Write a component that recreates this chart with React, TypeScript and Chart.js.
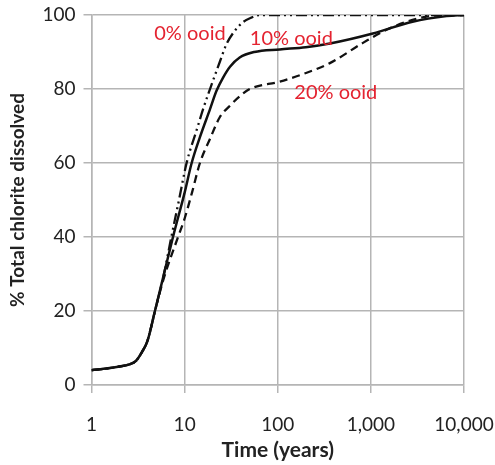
import React, { useEffect, useRef } from "react";
import { Chart, registerables } from "chart.js";

Chart.register(...registerables);

const xTicks = [1, 10, 100, 1000, 10000];
const yTicks = [0, 20, 40, 60, 80, 100];

const time0 = [1, 1.5, 2, 2.5, 3, 3.5, 4, 4.8, 6, 7.2, 8.7, 10.5, 13.5, 16, 20, 24, 28, 34, 42, 52, 64, 100, 1000, 10000];
const ooid0 = [4, 4.5, 5, 5.5, 6.5, 9, 12, 20, 30, 40, 50, 60, 69, 75, 82, 87.5, 92, 95.5, 98, 99.3, 100, 100, 100, 100];

const time10 = [1, 1.5, 2, 2.5, 3, 3.5, 4, 4.8, 6, 7.5, 10, 11.9, 14.6, 18.7, 22, 25.8, 30.7, 39, 56, 105, 200, 363, 1050, 2800, 6500, 10000];
const ooid10 = [4, 4.5, 5, 5.5, 6.5, 9, 12, 20, 30, 40, 52, 60, 67, 74.5, 79.5, 83, 86, 88.5, 90, 90.7, 91.3, 92.3, 95, 98.2, 99.7, 100];

const time20 = [1, 1.5, 2, 2.5, 3, 3.5, 4, 4.8, 6, 8.5, 10, 12, 14.6, 18.7, 24, 30.7, 39, 50, 105, 185, 363, 814, 1470, 3100, 6000, 10000];
const ooid20 = [4, 4.5, 5, 5.5, 6.5, 9, 12, 20, 29, 40, 45, 52, 60, 66.5, 72.5, 75.5, 78, 80, 82, 84, 87, 92.4, 96, 99, 100, 100];

const labelTexts = ["0% ooid", "10% ooid", "20% ooid"];
const labelTimes = [11.4, 140, 420];
const labelValues = [95, 93.6, 79];

const pts = (xs: number[], ys: number[]) => xs.map((x, i) => ({ x, y: ys[i] }));

const labelPlugin = {
  id: "ooidLabels",
  afterDatasetsDraw(chart: any) {
    const { ctx, scales } = chart;
    ctx.save();
    ctx.fillStyle = "#e42330";
    ctx.font = "20px Lato";
    ctx.textAlign = "center";
    ctx.textBaseline = "middle";
    labelTexts.forEach((t, i) => {
      ctx.fillText(t, scales.x.getPixelForValue(labelTimes[i]), scales.y.getPixelForValue(labelValues[i]));
    });
    ctx.restore();
  },
};

export default function App() {
  const ref = useRef<HTMLCanvasElement>(null);
  useEffect(() => {
    document.body.style.margin = "0";
    const grid = "#b5b5b5";
    const chart = new Chart(ref.current!, {
      type: "line",
      data: {
        datasets: [
          {
            label: "0% ooid",
            data: pts(time0, ooid0),
            borderColor: "#111",
            borderWidth: 2.3,
            borderDash: [11, 4, 2, 4, 2, 4],
            pointRadius: 0,
            cubicInterpolationMode: "monotone",
          },
          {
            label: "10% ooid",
            data: pts(time10, ooid10),
            borderColor: "#111",
            borderWidth: 2.5,
            pointRadius: 0,
            cubicInterpolationMode: "monotone",
          },
          {
            label: "20% ooid",
            data: pts(time20, ooid20),
            borderColor: "#111",
            borderWidth: 2.3,
            borderDash: [8, 5],
            pointRadius: 0,
            cubicInterpolationMode: "monotone",
          },
        ],
      },
      options: {
        animation: false,
        responsive: false,
        maintainAspectRatio: false,
        layout: { padding: { top: 15, right: 31, left: 0, bottom: 0 } },
        plugins: { legend: { display: false }, tooltip: { enabled: false } },
        scales: {
          x: {
            type: "logarithmic",
            min: 1,
            max: 10000,
            afterBuildTicks: (s: any) => {
              s.ticks = xTicks.map((v) => ({ value: v }));
            },
            afterFit: (s: any) => {
              s.height = 80;
              s.paddingLeft = 0;
              s.paddingRight = 0;
            },
            grid: { color: grid, lineWidth: 1.5, tickLength: 8 },
            border: { color: grid, width: 1.5 },
            ticks: {
              color: "#222",
              font: { family: "Lato", size: 19 },
              padding: 20,
              maxRotation: 0,
              callback: (v: any) => Number(v).toLocaleString("en-US"),
            },
            title: {
              display: true,
              text: "Time (years)",
              color: "#222",
              font: { family: "Lato", size: 21, weight: "bold" },
              padding: { top: 2, bottom: 2 },
            },
          },
          y: {
            min: 0,
            max: 100,
            afterBuildTicks: (s: any) => {
              s.ticks = yTicks.map((v) => ({ value: v }));
            },
            afterFit: (s: any) => {
              s.width = 91.5;
              s.paddingTop = 0;
              s.paddingBottom = 0;
            },
            grid: { color: grid, lineWidth: 1.5, tickLength: 8 },
            border: { color: grid, width: 1.5 },
            ticks: {
              color: "#222",
              font: { family: "Lato", size: 19 },
              padding: 8,
            },
            title: {
              display: true,
              text: "% Total chlorite dissolved",
              color: "#222",
              font: { family: "Lato", size: 19, weight: "bold" },
              padding: { top: 6, bottom: 6 },
            },
          },
        },
      },
      plugins: [labelPlugin],
    } as any);
    return () => chart.destroy();
  }, []);
  return (
    <div style={{ position: "absolute", left: 0, top: 0, width: 495, height: 465, background: "#fff" }}>
      <canvas ref={ref} width={495} height={465} style={{ width: 495, height: 465 }} />
    </div>
  );
}
